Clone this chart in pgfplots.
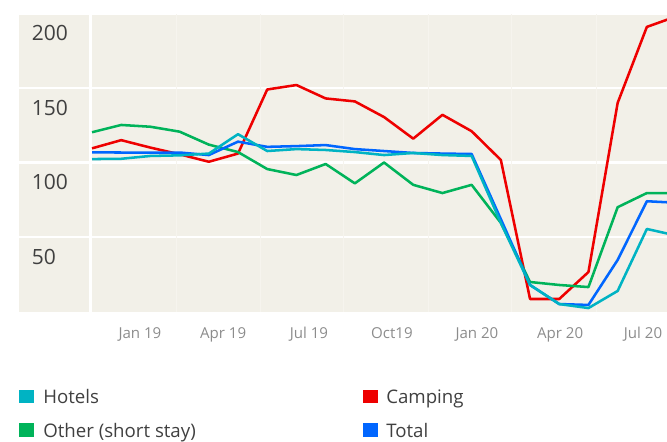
\documentclass[border=0pt]{standalone}
\usepackage{pgfplots}
\pgfplotsset{compat=1.18}
\usepackage{fontspec}
\setmainfont{Open Sans}
\definecolor{bg}{HTML}{F2F0E8}
\definecolor{faint}{HTML}{F6F4EE}
\definecolor{chotel}{HTML}{00B3C3}
\definecolor{ccamp}{HTML}{EE0000}
\definecolor{cother}{HTML}{00B35A}
\definecolor{ctotal}{HTML}{0066FF}
\definecolor{ylab}{HTML}{404040}
\definecolor{xlab}{HTML}{8C8C8C}
\definecolor{legtext}{HTML}{404040}
\begin{document}
\begin{tikzpicture}
\useasboundingbox (0,0) rectangle (500.25pt,-331.5pt);
\begin{axis}[
  at={(14.25pt,-233.625pt)}, anchor=south west,
  scale only axis, width=486pt, height=223.5pt,
  xmin=-2.5, xmax=19.69, ymin=0, ymax=200,
  axis line style={draw=none},
  axis background/.style={fill=bg},
  ytick={50,100,150,200},
  ymajorgrids, grid style={white, line width=2pt},
  major tick length=0pt,
  xtick={1.64,4.49,7.43,10.27,13.18,16.03,18.87},
  xticklabels={Jan 19, Apr 19, Jul 19, Oct19, Jan 20, Apr 20, Jul 20},
  /pgf/number format/assume math mode=true,
  yticklabel style={anchor=base west, inner sep=0pt, xshift=9.5pt, yshift=-20.6pt,
    font=\fontsize{15.75}{18}\selectfont, text=ylab},
  xticklabel style={anchor=base, inner sep=0pt, yshift=-20.1pt,
    font=\fontsize{11.3}{13}\selectfont, text=xlab},
  every axis plot/.append style={line width=1.9pt, line join=round, no markers},
]
\draw[faint, line width=0.75pt] (axis cs:2.877,0) -- (axis cs:2.877,200);
\draw[faint, line width=0.75pt] (axis cs:5.753,0) -- (axis cs:5.753,200);
\draw[faint, line width=0.75pt] (axis cs:8.596,0) -- (axis cs:8.596,200);
\draw[faint, line width=0.75pt] (axis cs:11.507,0) -- (axis cs:11.507,200);
\draw[faint, line width=0.75pt] (axis cs:14.38,0) -- (axis cs:14.38,200);
\draw[faint, line width=0.75pt] (axis cs:17.26,0) -- (axis cs:17.26,200);
\draw[white, line width=2pt] (axis cs:-0.05,0) -- (axis cs:-0.05,200);
% Camping
\addplot[ccamp] coordinates {
(0,109.5) (1,115) (2,110) (3,105.5) (4,100.5) (5,106) (6,149) (7,152) (8,143)
(9,141) (10,130.5) (11,116) (12,132) (13,121) (14,101.7) (15,8.4) (16,8.4)
(17,26.5) (18,140) (19,191) (20,198)};
% Other (short stay)
\addplot[cother] coordinates {
(0,120.3) (1,125.2) (2,124) (3,120.7) (4,112) (5,107) (6,95.6) (7,91.6) (8,99)
(9,86) (10,100) (11,85) (12,79.5) (13,85) (14,59.5) (15,19.8) (16,17.8)
(17,16.4) (18,70) (19,79.5) (20,79.5)};
% Total
\addplot[ctotal] coordinates {
(0,106.8) (1,106.7) (2,106.7) (3,106.7) (4,105) (5,114) (6,110.5) (7,111) (8,111.7)
(9,109) (10,107.7) (11,106.4) (12,106) (13,105.7) (14,62) (15,17.8) (16,5)
(17,4.4) (18,34.6) (19,74) (20,73)};
% Hotels
\addplot[chotel] coordinates {
(0,102.3) (1,102.5) (2,104.4) (3,104.8) (4,106) (5,119) (6,107.7) (7,109) (8,108.4)
(9,107) (10,105) (11,106.4) (12,105) (13,104.4) (14,59.5) (15,17.8) (16,5)
(17,2.3) (18,13.8) (19,55.4) (20,51)};
\end{axis}
\begin{scope}[x=0.75pt, y=-0.75pt]
\fill[chotel] (19,390) rectangle (33.7,403.3);
\fill[cother] (19,423) rectangle (33.7,436.7);
\fill[ccamp] (363.3,390) rectangle (378,403.3);
\fill[ctotal] (363.3,423) rectangle (378,436.7);
\node[anchor=base west, inner sep=0pt, font=\fontsize{14}{16}\selectfont, text=legtext] at (43,403.3) {Hotels};
\node[anchor=base west, inner sep=0pt, font=\fontsize{14}{16}\selectfont, text=legtext] at (43,437) {Other (short stay)};
\node[anchor=base west, inner sep=0pt, font=\fontsize{14}{16}\selectfont, text=legtext] at (386,403.3) {Camping};
\node[anchor=base west, inner sep=0pt, font=\fontsize{14}{16}\selectfont, text=legtext] at (386,437) {Total};
\end{scope}
\end{tikzpicture}
\end{document}
